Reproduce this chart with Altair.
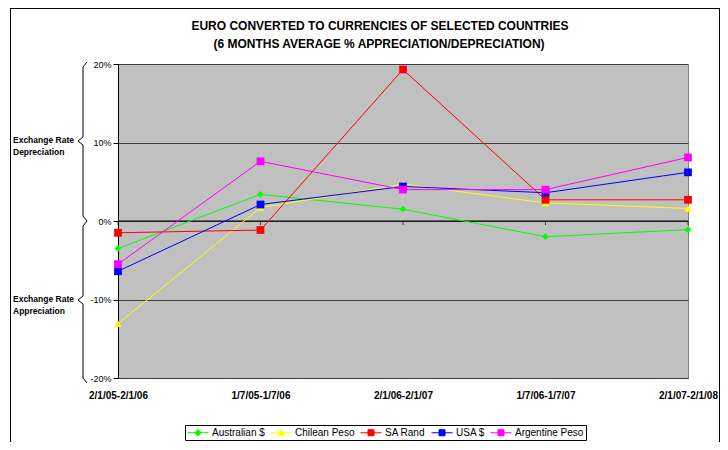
import altair as alt
import pandas as pd

# ---------------- data ----------------
categories = ["2/1/05-2/1/06", "1/7/05-1/7/06", "2/1/06-2/1/07", "1/7/06-1/7/07", "2/1/07-2/1/08"]
series_names = ["Australian $", "Chilean Peso", "SA Rand", "USA $", "Argentine Peso"]
australian = [-3.5, 3.4, 1.5, -2.0, -1.1]
chilean = [-13.1, 1.7, 4.7, 2.3, 1.6]
sa_rand = [-1.5, -1.15, 19.3, 2.7, 2.7]
usa = [-6.4, 2.1, 4.4, 3.6, 6.2]
argentine = [-5.5, 7.6, 4.0, 4.0, 8.1]
y_ticks = [-20, -10, 0, 10, 20]

# ---------------- styles ----------------
series_colors = ["#00FF00", "#FFFF00", "#FF0000", "#0000FF", "#FF00FF"]
series_shapes = ["diamond", "triangle-up", "square", "square", "square"]
series_sizes = [45, 55, 60, 60, 60]
# legend symbols: short line with the marker in its middle (unit = 5px at size 100)
LINE = "M-1,0L3.2,0"
legend_paths = [
    LINE + "M1.1,-0.65L1.75,0L1.1,0.65L0.45,0Z",
    LINE + "M1.1,-0.65L1.75,0.5L0.45,0.5Z",
    LINE + "M0.5,-0.6L1.7,-0.6L1.7,0.6L0.5,0.6Z",
    LINE + "M0.5,-0.6L1.7,-0.6L1.7,0.6L0.5,0.6Z",
    LINE + "M0.5,-0.6L1.7,-0.6L1.7,0.6L0.5,0.6Z",
]
FONT = "Liberation Sans, Arial, sans-serif"
TITLE_FONT = "Liberation Sans Narrow, Arial Narrow, Liberation Sans, Arial, sans-serif"

rows = []
for name, vals in zip(series_names, [australian, chilean, sa_rand, usa, argentine]):
    for c, v in zip(categories, vals):
        rows.append({"period": c, "series": name, "value": v})
df = pd.DataFrame(rows)

# plot area origin in page coordinates
OX, OY = 118, 64
W, H = 570, 314
CANVAS_W, CANVAS_H = 712, 434


def px(x):
    return x - OX


def py(y):
    return y - OY


x_enc = alt.X(
    "period:N",
    sort=categories,
    scale=alt.Scale(type="point", padding=0),
    axis=alt.Axis(
        title=None, domain=False, ticks=False, grid=False, labelAngle=0,
        labelFont=FONT, labelFontSize=10, labelFontWeight="bold",
        labelColor="black", labelPadding=12, labelBaseline="top",
    ),
)
y_enc = alt.Y(
    "value:Q",
    scale=alt.Scale(domain=[-20, 20], nice=False, zero=False),
    axis=alt.Axis(
        title=None, values=y_ticks, labelExpr="datum.value + '%'",
        labelFont=FONT, labelFontSize=9, labelColor="black",
        tickSize=5, tickColor="black", domainColor="black", domainWidth=1,
        grid=True, gridColor="#404040", gridWidth=1, labelPadding=2,
    ),
)

layers = []

# zero line and category ticks on it
layers.append(
    alt.Chart(alt.Data(values=[{}])).mark_rule(color="black", strokeWidth=1).encode(
        y=alt.datum(0), x=alt.value(0), x2=alt.value(W)
    )
)
tick_df = pd.DataFrame({"period": categories, "value": [0] * len(categories)})
layers.append(
    alt.Chart(tick_df).mark_tick(orient="vertical", size=4, thickness=1, yOffset=2, color="black").encode(
        x=x_enc, y=y_enc
    )
)

# series: line + markers, in series order
base = alt.Chart(df)
for name, col, shape, size in zip(series_names, series_colors, series_shapes, series_sizes):
    sub = base.transform_filter(alt.datum.series == name)
    layers.append(sub.mark_line(strokeWidth=1, color=col).encode(x=x_enc, y=y_enc))
    layers.append(
        sub.mark_point(shape=shape, filled=True, size=size, opacity=1, color=col).encode(
            x=x_enc, y=y_enc
        )
    )

# legend carrier layer (invisible marks)
leg = alt.Legend(
    title=None, orient="none", legendX=67, legendY=361, direction="horizontal",
    columns=5, strokeColor="black", fillColor="white", padding=2,
    labelFont=FONT, labelFontSize=10, labelColor="black", labelOffset=14,
    symbolSize=100, symbolStrokeWidth=1, symbolOpacity=1, columnPadding=3,
)
layers.append(
    alt.Chart(df).mark_point(opacity=0).encode(
        x=x_enc, y=y_enc,
        fill=alt.Fill("series:N", scale=alt.Scale(domain=series_names, range=series_colors), legend=leg),
        stroke=alt.Stroke("series:N", scale=alt.Scale(domain=series_names, range=series_colors), legend=leg),
        shape=alt.Shape("series:N", scale=alt.Scale(domain=series_names, range=legend_paths), legend=leg),
    )
)

one = alt.Data(values=[{}])


def seg(x1, y1, x2, y2, color="black", w=1):
    return alt.Chart(one).mark_rule(color=color, strokeWidth=w).encode(
        x=alt.value(px(x1)), y=alt.value(py(y1)), x2=alt.value(px(x2)), y2=alt.value(py(y2))
    )


# outer frame
layers.append(seg(10, 8.5, 719.5, 8.5))
layers.append(seg(10.5, 8, 10.5, 442))
layers.append(seg(719.5, 8, 719.5, 442))

# braces
for top, mid, bot in [(62, 141, 221), (221, 300, 383)]:
    layers.append(seg(87, top, 83, top + 5))
    layers.append(seg(83, top + 5, 83, mid - 4))
    layers.append(seg(83, mid - 4, 78, mid))
    layers.append(seg(78, mid, 83, mid + 4))
    layers.append(seg(83, mid + 4, 83, bot - 5))
    layers.append(seg(83, bot - 5, 87, bot))


def txt(s, x, y, size, weight="bold", align="left", font=FONT):
    return alt.Chart(one).mark_text(
        text=s, align=align, baseline="middle", font=font, fontSize=size,
        fontWeight=weight, color="black",
    ).encode(x=alt.value(px(x)), y=alt.value(py(y)))


# title
layers.append(txt("EURO CONVERTED TO CURRENCIES OF SELECTED COUNTRIES", 380, 26, 12, align="center", font=TITLE_FONT))
layers.append(txt("(6 MONTHS AVERAGE % APPRECIATION/DEPRECIATION)", 379, 44, 12, align="center", font=TITLE_FONT))

# side annotations
layers.append(txt("Exchange Rate", 13, 140, 8.5))
layers.append(txt("Depreciation", 13, 152, 8.5))
layers.append(txt("Exchange Rate", 13, 299, 8.5))
layers.append(txt("Appreciation", 13, 311, 8.5))

chart = (
    alt.layer(*layers)
    .properties(
        width=W, height=H,
        autosize=alt.AutoSizeParams(type="none"),
        padding={"left": OX - 8, "top": OY - 8, "right": CANVAS_W - (OX - 8) - W, "bottom": CANVAS_H - (OY - 8) - H},
        background="white",
    )
    .configure_view(fill="#C0C0C0", stroke="#808080")
)

chart.save("out.html", embed_options={"renderer": "svg", "actions": False})
